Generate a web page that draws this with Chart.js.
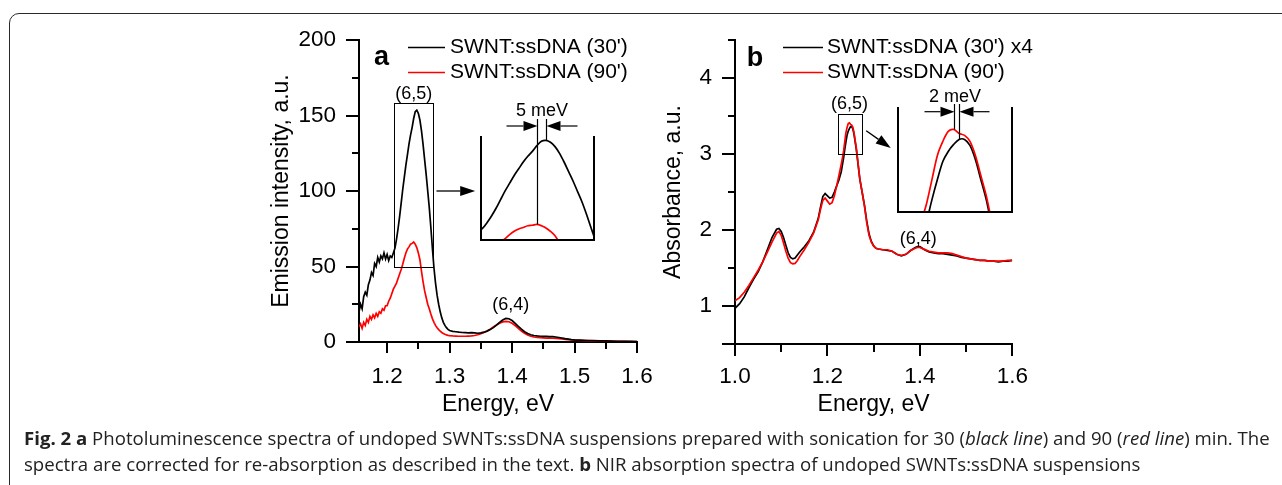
<!DOCTYPE html>
<html><head><meta charset="utf-8">
<script src="https://cdn.jsdelivr.net/npm/chart.js@4.4.1/dist/chart.umd.min.js"></script>
<style>
html,body{margin:0;padding:0;background:#fff;}
body{width:1282px;height:485px;overflow:hidden;position:relative;}
#frame{position:absolute;left:9px;top:13px;width:1400px;height:600px;border:1.5px solid #2a2a2a;border-radius:10px;}
canvas{position:absolute;}
.cap{position:absolute;left:24px;font-family:'Open Sans','Noto Sans',sans-serif;color:#222;white-space:nowrap;line-height:1;font-size:16px;}
.cap b{font-weight:700;}
</style></head><body>
<div id="frame"></div>
<canvas id="cA" width="460" height="430" style="left:200px;top:0px;width:460px;height:430px"></canvas>
<canvas id="cB" width="400" height="430" style="left:640px;top:0px;width:400px;height:430px"></canvas>
<canvas id="iA" width="140" height="155" style="left:470px;top:95px;width:140px;height:155px"></canvas>
<canvas id="iB" width="140" height="145" style="left:885px;top:80px;width:140px;height:145px"></canvas>
<div class="cap" id="cap1"><b>Fig. 2 a</b> Photoluminescence spectra of undoped SWNTs:ssDNA suspensions prepared with sonication for 30 (<i>black line</i>) and 90 (<i>red line</i>) min. The</div>
<div class="cap" id="cap2">spectra are corrected for re-absorption as described in the text. <b>b</b> NIR absorption spectra of undoped SWNTs:ssDNA suspensions</div>
<script>
// ---------------- data ----------------
const energyA = [1.155,1.1575,1.16,1.1625,1.165,1.1675,1.17,1.1725,1.175,1.1775,
1.18,1.1825,1.185,1.1875,1.19,1.1925,1.195,1.1975,1.2,1.2025,
1.205,1.2075,1.21,1.2125,1.215,1.2175,1.22,1.2225,1.225,1.2275,
1.23,1.2325,1.235,1.2375,1.24,1.2425,1.245,1.2475,1.25,1.2525,
1.255,1.2575,1.26,1.2625,1.265,1.2675,1.27,1.2725,1.275,1.2775,
1.28,1.2825,1.285,1.2875,1.29,1.2925,1.295,1.2975,1.3,
1.305,1.31,1.315,1.32,1.325,1.33,1.335,1.34,1.345,1.35,
1.355,1.36,1.365,1.37,1.375,1.38,1.385,1.39,1.395,1.4,
1.405,1.41,1.415,1.42,1.425,1.43,1.435,1.44,1.445,1.45,
1.455,1.46,1.465,1.47,1.475,1.48,1.485,1.49,1.495,1.5,
1.51,1.52,1.53,1.54,1.55,1.56,1.57,1.58,1.59,1.6];
const blackA = [20,25,22,30,33,31,38,41,46,44,
52,50,56,53,57,55,59,55,58,54,
57,56,59,62,68,75,83,92,101,109,
117,124,131,137,142,148,152.5,153.5,151.5,147,
140,131,121,111,100,89,76,62,49,39,
31,25,20,16,13,11,9.5,8.4,7.6,
7.0,6.8,6.5,6.3,6.2,6.0,6.2,6.0,5.8,6.0,
6.5,7.2,8.2,9.5,11.2,13.0,14.6,15.6,15.4,14.2,
12.4,10.4,8.5,6.8,5.6,4.8,4.3,4.0,3.8,3.7,
3.7,3.6,3.5,3.3,3.0,2.6,2.2,1.9,1.6,1.4,
1.2,1.0,0.9,0.8,0.7,0.6,0.5,0.5,0.4,0.3];
const redA = [10,12,9,13,11,15,13,17,15,18,
16,19,17,20,19,22,21,24,24,27,
29,32,35,37,39,42,45,48,51.5,55.5,
59,61.5,63,64.8,65.3,66.2,64.8,62.5,59,54.5,
47,40,34,29.5,25,22,18.5,15.5,13,11,
9.5,8.2,7.2,6.3,5.6,5.1,4.7,4.4,4.2,
4.0,3.9,3.8,3.8,3.8,3.9,4.0,4.3,4.8,5.5,
6.3,7.3,8.5,9.9,11.2,12.4,13.3,13.7,13.4,12.4,
10.8,9.0,7.3,5.8,4.6,3.8,3.3,3.0,2.8,2.7,
2.6,2.6,2.5,2.4,2.2,2.0,1.8,1.6,1.4,1.2,
1.0,0.9,0.8,0.7,0.6,0.5,0.4,0.4,0.3,0.3];

const energyB = [1.00,1.01,1.02,1.03,1.04,1.05,1.06,1.07,1.08,1.09,
1.095,
1.10,1.105,1.11,1.115,1.12,1.125,1.13,1.135,1.14,
1.15,1.16,1.17,1.18,
1.185,1.19,1.195,1.20,1.205,1.21,1.215,1.22,1.225,1.23,
1.2325,1.235,1.2375,1.24,1.2425,1.245,1.2475,1.25,1.2525,1.255,1.2575,1.26,1.2625,1.265,1.2675,1.27,
1.275,1.28,1.285,1.29,1.295,1.30,1.305,1.31,
1.32,1.33,1.34,1.35,1.36,1.37,1.38,1.39,
1.395,
1.40,1.41,1.42,1.43,1.44,1.45,1.46,1.47,1.48,1.49,1.50,1.51,1.52,1.53,1.54,1.55,1.56,1.57,1.58,1.59,1.60];
const blackB = [0.97,1.03,1.12,1.24,1.35,1.45,1.58,1.74,1.90,2.01,
2.02,
1.98,1.90,1.80,1.70,1.64,1.62,1.63,1.67,1.71,
1.78,1.86,1.97,2.15,
2.30,2.44,2.48,2.45,2.42,2.43,2.50,2.58,2.66,2.77,
2.86,2.95,3.06,3.16,3.25,3.30,3.335,3.36,3.36,3.33,3.26,3.16,3.06,2.93,2.80,2.67,
2.50,2.33,2.12,1.95,1.85,1.79,1.76,1.75,
1.74,1.73,1.72,1.68,1.66,1.68,1.73,1.77,
1.78,
1.78,1.74,1.71,1.70,1.69,1.69,1.68,1.67,1.66,1.64,1.63,1.62,1.61,1.60,1.60,1.59,1.59,1.58,1.59,1.59,1.60];
const redB = [1.07,1.11,1.18,1.27,1.37,1.47,1.58,1.71,1.84,1.96,
1.98,
1.93,1.83,1.72,1.63,1.57,1.555,1.56,1.60,1.65,
1.74,1.84,1.96,2.13,
2.27,2.39,2.42,2.38,2.34,2.36,2.45,2.58,2.72,2.87,
2.95,3.04,3.16,3.28,3.35,3.40,3.41,3.39,3.38,3.35,3.28,3.18,3.08,2.95,2.81,2.68,
2.50,2.32,2.10,1.93,1.84,1.79,1.76,1.75,
1.74,1.74,1.72,1.68,1.665,1.68,1.73,1.76,
1.77,
1.77,1.745,1.72,1.71,1.70,1.70,1.70,1.69,1.67,1.65,1.63,1.62,1.61,1.60,1.60,1.59,1.59,1.59,1.59,1.60,1.60];

const seriesLabelsA = ["SWNT:ssDNA (30')", "SWNT:ssDNA (90')"];
const seriesLabelsB = ["SWNT:ssDNA (30') x4", "SWNT:ssDNA (90')"];
const xLabelsA = [1.2,1.3,1.4,1.5,1.6];
const xMinorA = [1.25,1.35,1.45,1.55];
const yLabelsA = [0,50,100,150,200];
const yMinorA = [25,75,125,175];
const xLabelsB = [1.0,1.2,1.4,1.6];
const xMinorB = [1.1,1.3,1.5];
const yLabelsB = [1,2,3,4];
const yMajorMarksB = [0.5,1,2,3,4];
const yMinorB = [1.5,2.5,3.5,4.5];
const zoomA = {xMin:1.2117, xMax:1.274, yMin:50, yMax:158};
const zoomB = {xMin:1.222, xMax:1.2745, yMin:3.0, yMax:3.52};

// ---------------- drawing ----------------
const FONT = "'Liberation Sans', Arial, Helvetica, sans-serif";
Chart.defaults.font.family = FONT;
Chart.defaults.color = '#000';

function pts(xs, ys){ return xs.map((x,i)=>({x:x, y:ys[i]})); }

function arrow(ctx, x1, y1, x2, y2, head, half){
  const a = Math.atan2(y2-y1, x2-x1);
  const bx = x2 - head*Math.cos(a), by = y2 - head*Math.sin(a);
  ctx.beginPath(); ctx.moveTo(x1,y1); ctx.lineTo(bx,by); ctx.stroke();
  ctx.beginPath(); ctx.moveTo(x2,y2);
  ctx.lineTo(bx + half*Math.sin(a), by - half*Math.cos(a));
  ctx.lineTo(bx - half*Math.sin(a), by + half*Math.cos(a));
  ctx.closePath(); ctx.fill();
}

const decor = {
  id:'decor',
  afterDraw(chart, args, o){
    const ctx = chart.ctx, ca = chart.chartArea;
    const xs = chart.scales.x, ys = chart.scales.y;
    const X = v => xs.getPixelForValue(v), Y = v => ys.getPixelForValue(v);
    ctx.save();
    ctx.strokeStyle = '#000'; ctx.fillStyle = '#000';
    if (o.ticks){
      const t = o.ticks; ctx.lineWidth = 2;
      const b = Math.round(ca.bottom), l = Math.round(ca.left);
      const xt = (vals,len) => vals.forEach(v => { const p = Math.round(X(v)); ctx.beginPath(); ctx.moveTo(p,b); ctx.lineTo(p,b+len); ctx.stroke(); });
      const yt = (vals,len) => vals.forEach(v => { const p = Math.round(Y(v)); ctx.beginPath(); ctx.moveTo(l,p); ctx.lineTo(l-len,p); ctx.stroke(); });
      xt(t.xMajor, t.xMajorLen); xt(t.xMinor, t.xMinorLen);
      yt(t.yMajor, t.yMajorLen); yt(t.yMinor, t.yMinorLen);
    }
    if (o.box){
      ctx.lineWidth = 1;
      const x1 = Math.round(X(o.box.xMin))+0.5, x2 = Math.round(X(o.box.xMax))+0.5;
      const y1 = Math.round(Y(o.box.yMax))+0.5, y2 = Math.round(Y(o.box.yMin))+0.5;
      ctx.strokeRect(x1, y1, x2-x1, y2-y1);
    }
    if (o.arrow){
      ctx.lineWidth = 1.3;
      arrow(ctx, X(o.arrow.from[0]), Y(o.arrow.from[1]), X(o.arrow.to[0]), Y(o.arrow.to[1]), 15, 5);
    }
    if (o.frame){
      ctx.lineWidth = 2;
      const l = Math.round(ca.left), r = Math.round(ca.right), b = Math.round(ca.bottom), t = Math.round(ca.top);
      ctx.beginPath(); ctx.moveTo(l,t); ctx.lineTo(l,b); ctx.lineTo(r,b); ctx.lineTo(r,t); ctx.stroke();
    }
    if (o.peaks){
      const p = o.peaks;
      const peakOf = (ds) => {
        let best = null;
        ds.data.forEach(d => { if (d.x >= xs.min && d.x <= xs.max && (!best || d.y > best.y)) best = d; });
        return best;
      };
      const pr = peakOf(chart.data.datasets[1]), pb = peakOf(chart.data.datasets[0]);
      const xl = Math.round(X(pr.x))+0.5, xr = Math.round(X(pb.x))+0.5;
      const top = ca.top - p.lineTop;
      ctx.lineWidth = 1.2;
      ctx.beginPath(); ctx.moveTo(xl, Y(pr.y)); ctx.lineTo(xl, top); ctx.stroke();
      ctx.beginPath(); ctx.moveTo(xr, Y(pb.y)); ctx.lineTo(xr, top); ctx.stroke();
      const ay = top + p.arrowDy;
      arrow(ctx, xl - p.len, ay, xl, ay, 14, 5);
      arrow(ctx, xr + p.len, ay, xr, ay, 14, 5);
      ctx.font = '18px ' + FONT; ctx.textAlign = 'center'; ctx.textBaseline = 'middle';
      ctx.fillText(p.text, (xl+xr)/2 + p.textDx, top + p.labelDy);
    }
    if (o.texts){
      ctx.textAlign = 'center'; ctx.textBaseline = 'middle';
      o.texts.forEach(t => { ctx.font = t.font; ctx.fillText(t.text, X(t.x), Y(t.y)); });
    }
    if (o.legend){
      const L = o.legend;
      ctx.font = '21px ' + FONT; ctx.textAlign = 'left'; ctx.textBaseline = 'middle';
      chart.data.datasets.forEach((ds, i) => {
        const y = Math.round(ca.top + L.y0 + i*L.gap) + 0.5;
        ctx.strokeStyle = ds.borderColor; ctx.lineWidth = 1.6;
        ctx.beginPath(); ctx.moveTo(ca.left + L.dx, y); ctx.lineTo(ca.left + L.dx + L.len, y); ctx.stroke();
        ctx.fillStyle = '#000';
        ctx.fillText(ds.label, ca.left + L.dx + L.len + L.gapText, y);
      });
    }
    ctx.restore();
  }
};

function mainChart(id, c){
  return new Chart(document.getElementById(id), {
    type:'line',
    data:{datasets:[
      {label:c.labels[0], data:pts(c.energy, c.black), borderColor:'#000', borderWidth:1.7, pointRadius:0, tension:0, order:c.orders[0]},
      {label:c.labels[1], data:pts(c.energy, c.red), borderColor:'#f00', borderWidth:1.7, pointRadius:0, tension:0, order:c.orders[1]}
    ]},
    options:{
      responsive:false, animation:false, events:[], devicePixelRatio:1,
      layout:{padding:c.pad},
      plugins:{legend:{display:false}, tooltip:{enabled:false}, decor:c.decor},
      scales:{
        x:{type:'linear', min:c.xMin, max:c.xMax,
          afterBuildTicks:a => { a.ticks = c.xLabels.map(v => ({value:v})); },
          afterFit:s => { s.height = 80; s.paddingLeft = 0; s.paddingRight = 0; },
          ticks:{autoSkip:false, maxRotation:0, minRotation:0, padding:c.xPad, font:{size:22.5}, color:'#000', callback:v => Number(v).toFixed(1)},
          grid:{display:false, drawTicks:false},
          border:{display:true, color:'#000', width:2},
          title:{display:true, text:'Energy, eV', font:{size:23}, color:'#000', padding:{top:0, bottom:c.xTitlePad}}},
        y:{type:'linear', min:c.yMin, max:c.yMax,
          afterBuildTicks:a => { a.ticks = c.yLabels.map(v => ({value:v})); },
          afterFit:s => { s.width = c.yW; s.paddingTop = 0; s.paddingBottom = 0; },
          ticks:{padding:23, font:{size:22.5}, color:'#000', callback:v => String(v)},
          grid:{display:false, drawTicks:false},
          border:{display:true, color:'#000', width:2},
          title:{display:true, text:c.yTitle, font:{size:23}, color:'#000', padding:{top:c.yTitlePad, bottom:0}}}
      }
    },
    plugins:[decor]
  });
}

function insetChart(id, c){
  return new Chart(document.getElementById(id), {
    type:'line',
    data:{datasets:[
      {label:'30', data:pts(c.energy, c.black), borderColor:'#000', borderWidth:1.7, pointRadius:0, tension:0.3, order:c.orders[0]},
      {label:'90', data:pts(c.energy, c.red), borderColor:'#f00', borderWidth:1.7, pointRadius:0, tension:0.3, order:c.orders[1]}
    ]},
    options:{
      responsive:false, animation:false, events:[], devicePixelRatio:1,
      layout:{padding:c.pad},
      plugins:{legend:{display:false}, tooltip:{enabled:false}, decor:{frame:true, peaks:c.peaks}},
      scales:{
        x:{type:'linear', display:false, min:c.zoom.xMin, max:c.zoom.xMax},
        y:{type:'linear', display:false, min:c.zoom.yMin, max:c.zoom.yMax}
      }
    },
    plugins:[decor]
  });
}

mainChart('cA', {
  energy:energyA, black:blackA, red:redA, labels:seriesLabelsA, orders:[0,1],
  pad:{left:50, right:23, top:40, bottom:8},
  xMin:1.155, xMax:1.6, yMin:0, yMax:200, xLabels:xLabelsA, yLabels:yLabelsA,
  xPad:21.7, xTitlePad:3.2, yW:109, yTitlePad:17.5, yTitle:'Emission intensity, a.u.',
  decor:{
    ticks:{xMajor:xLabelsA, xMinor:xMinorA, xMajorLen:11, xMinorLen:7, yMajor:yLabelsA, yMinor:yMinorA, yMajorLen:13, yMinorLen:7},
    box:zoomA,
    arrow:{from:[1.279,100], to:[1.341,100]},
    texts:[
      {text:'a', x:1.1909, y:188.5, font:'bold 27px ' + FONT},
      {text:'(6,5)', x:1.2426, y:164, font:'18px ' + FONT},
      {text:'(6,4)', x:1.398, y:24.5, font:'18px ' + FONT}
    ],
    legend:{dx:49, len:37, gapText:5, y0:7, gap:25}
  }
});

mainChart('cB', {
  energy:energyB, black:blackB, red:redB, labels:seriesLabelsB, orders:[1,0],
  pad:{left:10, right:27.7, top:40, bottom:6},
  xMin:1.0, xMax:1.6, yMin:0.5, yMax:4.5, xLabels:xLabelsB, yLabels:yLabelsB,
  xPad:19.7, xTitlePad:5.2, yW:85, yTitlePad:9.5, yTitle:'Absorbance, a.u.',
  decor:{
    ticks:{xMajor:xLabelsB, xMinor:xMinorB, xMajorLen:12, xMinorLen:8, yMajor:yMajorMarksB, yMinor:yMinorB, yMajorLen:13, yMinorLen:7},
    box:zoomB,
    arrow:{from:[1.2839,3.307], to:[1.337,3.079]},
    texts:[
      {text:'b', x:1.043, y:4.25, font:'bold 27px ' + FONT},
      {text:'(6,5)', x:1.2475, y:3.657, font:'18px ' + FONT},
      {text:'(6,4)', x:1.3963, y:1.88, font:'18px ' + FONT}
    ],
    legend:{dx:48, len:40, gapText:4, y0:7, gap:25}
  }
});

insetChart('iA', {energy:energyA, black:blackA, red:redA, orders:[0,1], zoom:zoomA,
  pad:{left:11, top:41, right:16, bottom:10},
  peaks:{lineTop:17, arrowDy:7, labelDy:-8, len:31, text:'5 meV', textDx:0}});
insetChart('iB', {energy:energyB, black:blackB, red:redB, orders:[1,0], zoom:zoomB,
  pad:{left:13.3, top:27.3, right:12.7, bottom:13.3},
  peaks:{lineTop:3.3, arrowDy:7.7, labelDy:-6.8, len:30, text:'2 meV', textDx:-2}});

// caption fit
(function(){
  const c1 = document.getElementById('cap1'), c2 = document.getElementById('cap2');
  const w = c1.getBoundingClientRect().width;
  const fs = 16 * 1246 / w;
  [c1,c2].forEach(c => c.style.fontSize = fs + 'px');
  c1.style.top = (446 - 0.888*fs) + 'px';
  c2.style.top = (472 - 0.888*fs) + 'px';
})();
</script>
</body></html>
